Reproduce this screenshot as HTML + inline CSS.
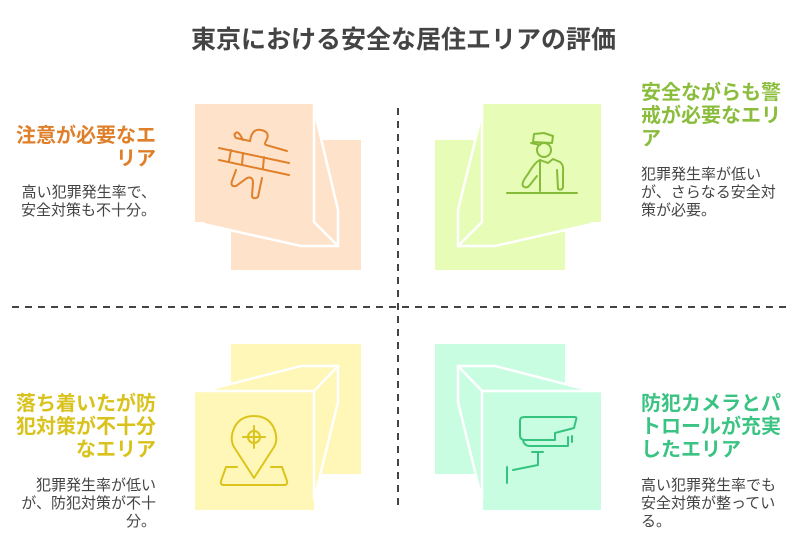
<!DOCTYPE html>
<html><head><meta charset="utf-8"><style>
body{margin:0;width:807px;height:551px;background:#fff;position:relative;overflow:hidden;font-family:"Liberation Sans","Noto Sans CJK JP",sans-serif}
.t{position:absolute;left:0;width:807px;top:20px;text-align:center;font-size:25px;font-weight:bold;color:#444}
.h{position:absolute;font-size:20px;font-weight:bold;line-height:23px;white-space:nowrap}
.b{position:absolute;font-size:15px;line-height:18px;color:#444;white-space:nowrap}
.r{text-align:right}
svg{position:absolute;left:0;top:0}
</style></head><body>
<svg width="807" height="551" viewBox="0 0 807 551">
<g stroke="#444" stroke-width="2" stroke-dasharray="7,6">
<line x1="398" y1="108" x2="398" y2="505"/>
<line x1="12" y1="307" x2="786" y2="307"/>
</g>
<!-- TL -->
<rect x="231" y="140" width="130" height="130" fill="#fee2ca"/>
<rect x="195" y="104" width="119" height="118" fill="#fee2ca"/>
<path d="M315 113 L338 210 L338 246 L301 246 L203 224 Z" fill="#fee2ca"/>
<g stroke="#fff" stroke-width="2.5" fill="none"><path d="M314 104 V222 L338 246"/><path d="M315 113 L338 210 V246 H301 L203 224"/></g>
<g stroke="#e0802a" stroke-width="2" fill="none" stroke-linecap="round">
<line x1="219" y1="148" x2="289" y2="163"/><line x1="219" y1="160" x2="289" y2="175"/>
<line x1="231" y1="150" x2="229" y2="161"/><line x1="243" y1="153" x2="242" y2="164"/><line x1="264" y1="157" x2="263" y2="168"/>
<path d="M243 140 Q238 130 236 133 Q233 134 236 138 L250 141 Q252 128 261 130 Q271 132 266 141 Q264 144 266 145 L287 151"/>
<path d="M236 170 L232 181 Q230 187 236 186 L247 178 Q253 176 253 183 L252 196 Q253 200 258 197 L262 178"/>
</g>
<!-- TR -->
<rect x="435" y="140" width="130" height="130" fill="#e6fcb7"/>
<rect x="483" y="104" width="118" height="118" fill="#e6fcb7"/>
<path d="M482 113 L458 210 L458 246 L495 246 L592 224 Z" fill="#e6fcb7"/>
<g stroke="#fff" stroke-width="2.5" fill="none"><path d="M482 104 V222 L458 246"/><path d="M482 113 L458 210 V246 H495 L592 224"/></g>
<g stroke="#86bb3a" stroke-width="2" fill="none" stroke-linecap="round" stroke-linejoin="round">
<path d="M534 134 L533 142 L552 143 L553 136 L544 133 Z"/><path d="M531 143 Q536 144 540 145"/>
<circle cx="544" cy="150" r="7"/>
<path d="M540 191 L540 160 L548 163 L553 159 L560 162 Q564 165 563 172 L563 187 Q562 191 558 189 L557 170"/>
<path d="M540 160 Q535 162 528 174 Q521 183 523 186 Q526 189 529 186 L537 176"/>
<line x1="507" y1="193" x2="577" y2="193"/>
</g>
<!-- BL -->
<rect x="231" y="344" width="130" height="130" fill="#fef7b8"/>
<path d="M203 391 L301 366 L338 366 L338 402 L314 500 L314 391 Z" fill="#fef7b8"/>
<rect x="195" y="391" width="119" height="119" fill="#fef7b8"/>
<g stroke="#fff" stroke-width="2.5" fill="none"><path d="M195 391 H314 V500"/><path d="M314 391 L338 366"/><path d="M203 391 L301 366 H338 V402 L314 500"/></g>
<g stroke="#dcc41e" stroke-width="2" fill="none" stroke-linecap="round" stroke-linejoin="round">
<path d="M254 478 L234 447 Q230 440 233 431 Q238 416 254 416 Q270 416 275 431 Q278 440 274 447 Z"/>
<circle cx="254" cy="437" r="6"/><line x1="243" y1="437" x2="265" y2="437"/><line x1="254" y1="426" x2="254" y2="448"/>
<path d="M237 467 H226 L221 481 Q220 485 224 485 H284 Q288 485 287 481 L282 467 H271"/>
</g>
<!-- BR -->
<rect x="435" y="344" width="130" height="130" fill="#c8fde2"/>
<path d="M592 391 L495 366 L458 366 L458 402 L482 500 L482 391 Z" fill="#c8fde2"/>
<rect x="483" y="391" width="118" height="119" fill="#c8fde2"/>
<g stroke="#fff" stroke-width="2.5" fill="none"><path d="M601 391 H482 V500"/><path d="M482 391 L458 366"/><path d="M592 391 L495 366 H458 V402 L482 500"/></g>
<g stroke="#34c47f" stroke-width="2" fill="none" stroke-linecap="round" stroke-linejoin="round">
<path d="M524 417 H575 Q577 417 576 420 L574 428 L555 433 L555 440 H525 Q520 440 520 435 L520 421 Q520 417 524 417 Z"/>
<path d="M523 440 Q524 446 530 446 H568 L568 437"/><line x1="572" y1="436" x2="572" y2="442"/>
<line x1="532" y1="452" x2="543" y2="452"/><path d="M538 452 V465 L513 470"/><line x1="507" y1="467" x2="507" y2="483"/>
</g>
</svg>
<div class="t">東京における安全な居住エリアの評価</div>
<div class="h r" style="right:651px;top:125px;color:#e07f2a">注意が必要なエ<br>リア</div>
<div class="b r" style="right:651px;top:184px">高い犯罪発生率で、<br>安全対策も不十分。</div>
<div class="h" style="left:641px;top:82px;color:#8bbd3c">安全ながらも警<br>戒が必要なエリ<br>ア</div>
<div class="b" style="left:641px;top:166px">犯罪発生率が低い<br>が、さらなる安全対<br>策が必要。</div>
<div class="h r" style="right:651px;top:393px;color:#d9c21c">落ち着いたが防<br>犯対策が不十分<br>なエリア</div>
<div class="b r" style="right:651px;top:477px">犯罪発生率が低い<br>が、防犯対策が不十<br>分。</div>
<div class="h" style="left:641px;top:393px;color:#3ac382">防犯カメラとパ<br>トロールが充実<br>したエリア</div>
<div class="b" style="left:641px;top:477px">高い犯罪発生率でも<br>安全対策が整ってい<br>る。</div>
</body></html>
